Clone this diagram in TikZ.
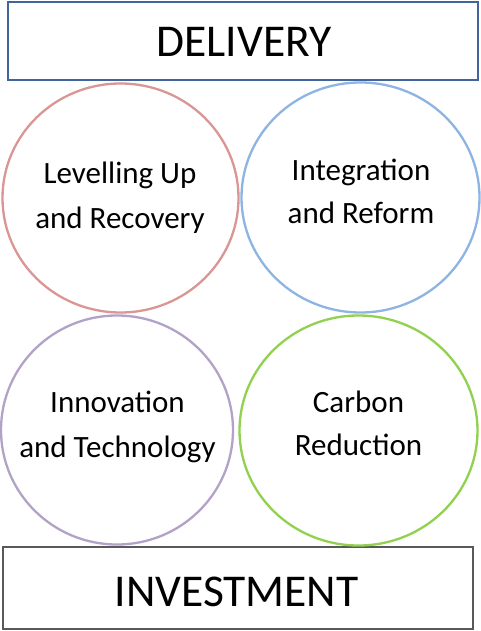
\documentclass[tikz,border=0pt]{standalone}
\usepackage{fontspec}
\setmainfont{Carlito}
\usetikzlibrary{shapes.geometric}
\definecolor{delblue}{HTML}{41659A}
\definecolor{invgray}{HTML}{595959}
\definecolor{cred}{HTML}{D99694}
\definecolor{cblue}{HTML}{8EB4E3}
\definecolor{cpurple}{HTML}{B3A2C7}
\definecolor{cgreen}{HTML}{92D050}
\tikzset{
  bigbox/.style={draw, line width=2.6pt, rectangle, inner sep=0pt},
  bigtext/.style={anchor=base, inner sep=0pt, font=\fontsize{45.5}{54}\selectfont},
  ring/.style={draw, line width=2.3pt, ellipse, inner sep=0pt},
  ringtext/.style={anchor=base, inner sep=0pt, font=\fontsize{31}{45}\selectfont},
}
\begin{document}
\begin{tikzpicture}[x=1pt,y=-1pt]
\useasboundingbox (0,0) rectangle (481,631);
\fill[white] (0,0) rectangle (481,631);
% boxes
\node[bigbox, draw=delblue, minimum width=470pt, minimum height=78pt] (delbox) at (243,41) {};
\node[bigtext] (deltext) at (244,57) {DELIVERY};
\node[bigbox, draw=invgray, minimum width=470pt, minimum height=82pt] (invbox) at (238,588) {};
\node[bigtext] (invtext) at (236.5,606) {INVESTMENT};
% circles
\node[ring, draw=cred, minimum width=236pt, minimum height=229pt] (c1) at (120.5,198) {};
\node[ring, draw=cblue, minimum width=238pt, minimum height=230pt] (c2) at (360.5,197.5) {};
\node[ring, draw=cpurple, minimum width=232pt, minimum height=229pt] (c3) at (117,430) {};
\node[ring, draw=cgreen, minimum width=238pt, minimum height=230pt] (c4) at (358.5,430.5) {};
% circle texts
\node[ringtext] (t1a) at (120,183) {Levelling Up};
\node[ringtext] (t1b) at (120,228) {and Recovery};
\node[ringtext] (t2a) at (361,180) {Integration};
\node[ringtext] (t2b) at (361,223) {and Reform};
\node[ringtext] (t3a) at (117.5,412) {Innovation};
\node[ringtext] (t3b) at (117.5,457) {and Technology};
\node[ringtext] (t4a) at (358.5,412) {Carbon};
\node[ringtext] (t4b) at (358.5,455) {Reduction};
\end{tikzpicture}
\end{document}
